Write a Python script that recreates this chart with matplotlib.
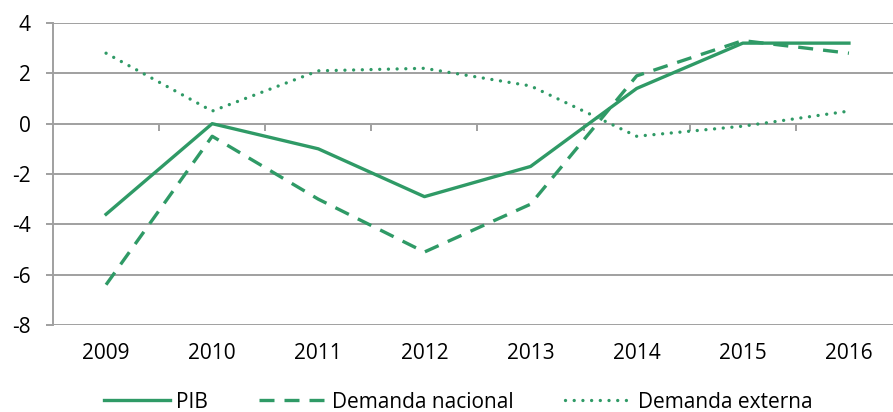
import numpy as np
import matplotlib
matplotlib.use("Agg")
import matplotlib.pyplot as plt

plt.rcParams['font.family'] = ['Open Sans', 'DejaVu Sans']
plt.rcParams['axes.unicode_minus'] = False

years = ['2009', '2010', '2011', '2012', '2013', '2014', '2015', '2016']
pib = [-3.6, 0.0, -1.0, -2.9, -1.7, 1.4, 3.2, 3.2]
demanda_nacional = [-6.4, -0.5, -3.0, -5.1, -3.2, 1.9, 3.3, 2.8]
demanda_externa = [2.8, 0.5, 2.1, 2.2, 1.5, -0.5, -0.1, 0.5]
yticks = [-8, -6, -4, -2, 0, 2, 4]

green = '#2f9a66'
grey = '#a0a0a0'
fs = 15

fig = plt.figure(figsize=(8.93, 4.12), dpi=100)
ax = fig.add_axes([53 / 893, 1 - 325 / 412, 849 / 893, 302 / 412])

x = np.arange(len(years))
lw = 2.4
ax.plot(x, pib, color=green, lw=lw, label='PIB', solid_joinstyle='round')
ax.plot(x, demanda_nacional, color=green, lw=lw, dashes=(4.5, 3.0),
        label='Demanda nacional', dash_capstyle='butt')
ax.plot(x, demanda_externa, color=green, lw=lw, dashes=(0.01, 2.6),
        dash_capstyle='round', label='Demanda externa')

ax.set_xlim(-0.5, len(years) - 0.5)
ax.set_ylim(-8, 4)
ax.set_yticks(yticks)
ax.set_yticklabels([str(v) for v in yticks])
for v in yticks:
    ax.axhline(v, color=grey, lw=1.4, zorder=0)

ax.set_xticks(x)
ax.set_xticklabels(years)
ax.tick_params(axis='x', length=0, pad=13, labelsize=fs)
ax.tick_params(axis='y', length=5, width=1.4, color=grey, pad=11, labelsize=fs)

for s in ['top', 'right', 'bottom']:
    ax.spines[s].set_visible(False)
ax.spines['left'].set_color(grey)
ax.spines['left'].set_linewidth(1.4)

# category axis crossing at zero, with tick marks between categories
sec = ax.secondary_xaxis(8 / 12)
sec.set_xticks(np.arange(0.5, len(years) - 0.5, 1.0))
sec.set_xticklabels([])
sec.tick_params(direction='out', length=5, width=1.4, color=grey)
sec.spines['bottom'].set_visible(False)
sec.spines['top'].set_visible(False)
sec.xaxis.set_ticks_position('bottom')

fig.legend(loc='center', bbox_to_anchor=(458 / 893, 1 - 402 / 412), ncol=3,
           frameon=False, fontsize=fs, handlelength=3.2, handletextpad=0.3,
           columnspacing=2.45)

fig.savefig('out.png', dpi=100)
